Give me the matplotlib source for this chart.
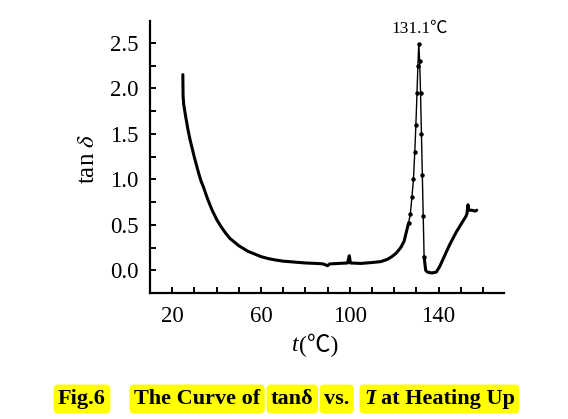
import matplotlib
matplotlib.use("Agg")
import matplotlib.pyplot as plt
from matplotlib.ticker import MultipleLocator, FixedLocator
import numpy as np

# Data
temp = [24.8, 24.9, 25.2, 26, 27, 28, 29, 30, 31, 32, 33, 34, 35, 36, 37, 38, 39, 40,
        42, 44, 46, 48, 50, 52, 54, 56, 58, 60, 63, 66, 70, 75, 80, 85, 88, 90, 91,
        95, 99, 99.8, 100.3, 105, 110, 114, 117, 119, 121, 123, 124.5, 125.5, 126.5,
        127.3, 128, 128.7, 129.3, 129.8, 130.3, 130.7, 131.1, 131.5, 131.9, 132.3,
        132.7, 133.1, 133.5, 134.2, 135, 137, 139, 140.5, 142, 143.5, 145, 146.5,
        148, 149.5, 151, 152.3, 152.8, 153.3, 153.6, 155, 156.5, 157.2]
tand = [2.15, 1.92, 1.82, 1.70, 1.56, 1.44, 1.34, 1.24, 1.15, 1.06, 0.98, 0.92, 0.85,
        0.78, 0.72, 0.66, 0.61, 0.56, 0.48, 0.41, 0.35, 0.31, 0.27, 0.24, 0.21, 0.19,
        0.17, 0.15, 0.13, 0.115, 0.10, 0.09, 0.08, 0.075, 0.07, 0.05, 0.07, 0.075,
        0.08, 0.16, 0.08, 0.075, 0.085, 0.095, 0.12, 0.15, 0.19, 0.25, 0.32, 0.42,
        0.52, 0.62, 0.80, 1.0, 1.3, 1.6, 1.95, 2.25, 2.49, 2.3, 1.95, 1.5, 1.05,
        0.6, 0.15, 0.0, -0.02, -0.03, -0.02, 0.04, 0.12, 0.20, 0.28, 0.35, 0.42,
        0.48, 0.54, 0.59, 0.62, 0.72, 0.66, 0.66, 0.65, 0.66]

x_ticks = [20, 60, 100, 140]
y_ticks = [0.0, 0.5, 1.0, 1.5, 2.0, 2.5]
peak_label = "131.1℃"
peak_T = 131.1
peak_v = 2.49

serif = ['Liberation Serif', 'Noto Sans CJK SC', 'DejaVu Sans']
plt.rcParams['font.family'] = serif
plt.rcParams['mathtext.fontset'] = 'stix'

W, H = 568, 419
fig = plt.figure(figsize=(W / 100, H / 100), dpi=100)
ax = fig.add_axes([150 / W, 1 - 293 / H, (504 - 150) / W, (293 - 21) / H])

t = np.array(temp)
v = np.array(tand)
lo = t <= 126.6
hi = t >= 133.4
mid = (t >= 126.5) & (t <= 133.6)
ax.plot(t[lo], v[lo], color='black', lw=2.2, solid_capstyle='round')
ax.plot(t[hi], v[hi], color='black', lw=2.2, solid_capstyle='round')
ax.plot(t[mid], v[mid], color='black', lw=1.0, marker='o', ms=2.2)

ax.set_xlim(10, 169.5)
ax.set_ylim(-0.25, 2.74)

ax.xaxis.set_major_locator(FixedLocator(x_ticks))
ax.xaxis.set_minor_locator(MultipleLocator(10))
ax.yaxis.set_major_locator(FixedLocator(y_ticks))
ax.yaxis.set_minor_locator(MultipleLocator(0.25))
ax.set_xticklabels([str(x) for x in x_ticks])
ax.set_yticklabels([f"{y:.1f}" for y in y_ticks])

for s in ['top', 'right']:
    ax.spines[s].set_visible(False)
for s in ['left', 'bottom']:
    ax.spines[s].set_linewidth(1.6)
ax.tick_params(which='both', direction='in', length=4, width=1.4, labelsize=16.5)
ax.tick_params(axis='x', which='major', pad=9)
ax.tick_params(axis='y', which='major', pad=8)

ax.annotate(peak_label, (peak_T, peak_v), xytext=(1, 5), textcoords='offset points',
            ha='center', va='bottom', fontsize=12.5, family=serif)

# y label
fig.text(88 / W, 1 - 159 / H, 'tan $\\delta$', rotation=90, ha='center', va='center',
         fontsize=18)
# x label
fig.text(299 / W, 1 - 345 / H, 't', style='italic', ha='right', va='center', fontsize=17)
fig.text(299 / W, 1 - 345 / H, '(℃)', ha='left', va='center', fontsize=17, family=serif)

# caption with yellow highlights
caption = [("Fig.6", 58, 'normal'), ("The Curve of", 134, 'normal'), ("tanδ", 271, 'normal'),
           ("vs.", 324, 'normal'), ("T", 364, 'italic'), ("at Heating Up", 381, 'normal')]
yc = 1 - 399 / H
for txt, xp, st in caption:
    fig.text(xp / W, yc, txt, ha='left', va='center', fontsize=16, fontweight='bold',
             style=st, family=serif,
             bbox=dict(boxstyle='round,pad=0.2', fc='#ffff00', ec='none'))

fig.savefig('out.png', dpi=100)
